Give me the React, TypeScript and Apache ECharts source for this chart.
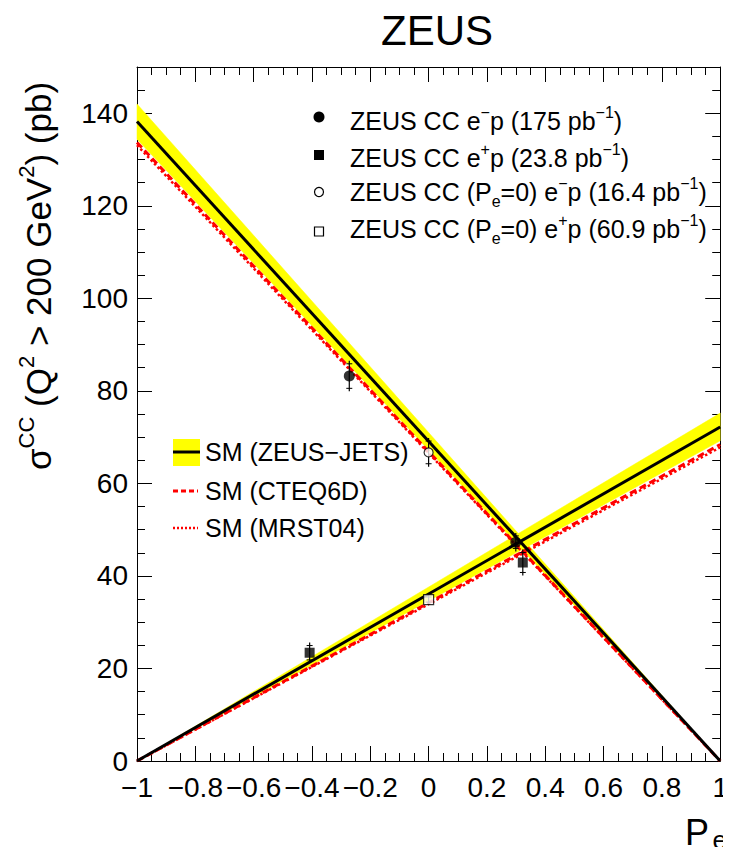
import React, { useEffect, useRef } from "react";
import * as echarts from "echarts";

// ---- Data ----
// Measured points (polarisation Pe, sigma in pb, total error in pb)
const emPolP = [-0.272, 0.299];
const emPolSigma = [83.2, 47.3];
const emPolErr = [3.3, 2.0];

const epPolP = [-0.408, 0.323];
const epPolSigma = [23.4, 42.9];
const epPolErr = [2.2, 2.8];

const emUnpolP = [0.0];
const emUnpolSigma = [66.7];
const emUnpolErr = [3.1];

const epUnpolP = [0.0];
const epUnpolSigma = [34.9];
const epUnpolErr = [1.2];

// SM predictions at Pe = -1 and Pe = +1
const smP = [-1, 1];
const zeusJetsEm = [138.2, 0];
const zeusJetsEmLo = [134.4, 0];
const zeusJetsEmHi = [142.0, 0];
const zeusJetsEp = [0, 72.2];
const zeusJetsEpLo = [0, 69.2];
const zeusJetsEpHi = [0, 75.2];
const cteqEm = [133.7, 0];
const cteqEp = [0, 68.4];
const mrstEm = [133.1, 0];
const mrstEp = [0, 67.8];

const FONT = "Liberation Sans, Arial, Helvetica, sans-serif";

const fmtX = (v: number) => {
  const r = Math.round(v * 10) / 10;
  if (r === 0) return "0";
  return String(r).replace("-", "\u2212");
};

function App() {
  const ref = useRef<HTMLDivElement>(null);

  useEffect(() => {
    if (!ref.current) return;
    const chart = echarts.init(ref.current, null, { renderer: "svg" });

    const line = (a: number[]) => smP.map((p, i) => [p, a[i]]);
    const pts = (p: number[], s: number[]) => p.map((x, i) => [x, s[i]]);
    const errs = (p: number[], s: number[], e: number[]) => p.map((x, i) => [x, s[i], e[i]]);

    const bandData = [
      [smP[0], zeusJetsEmLo[0], zeusJetsEmHi[0], smP[1], zeusJetsEmLo[1], zeusJetsEmHi[1]],
      [smP[0], zeusJetsEpLo[0], zeusJetsEpHi[0], smP[1], zeusJetsEpLo[1], zeusJetsEpHi[1]],
    ];

    const errData = [
      ...errs(emPolP, emPolSigma, emPolErr),
      ...errs(epPolP, epPolSigma, epPolErr),
      ...errs(emUnpolP, emUnpolSigma, emUnpolErr),
      ...errs(epUnpolP, epUnpolSigma, epUnpolErr),
    ];

    const tickCommon = {
      axisLine: { show: true, onZero: false, lineStyle: { color: "#000", width: 1 } },
      axisTick: { show: true, inside: true, length: 15, lineStyle: { color: "#000", width: 1 } },
      minorTick: { show: true, splitNumber: 4, length: 8, lineStyle: { color: "#000", width: 1 } },
      splitLine: { show: false },
      minorSplitLine: { show: false },
    };

    const baseRich = {
      sup: { fontSize: 16, lineHeight: 16, verticalAlign: "top", fontFamily: FONT, fill: "#000" },
      sub: { fontSize: 16, lineHeight: 16, verticalAlign: "bottom", fontFamily: FONT, fill: "#000" },
    };

    const legendText = (x: number, y: number, text: string) => ({
      type: "text",
      x,
      y,
      style: {
        text,
        fontSize: 25,
        lineHeight: 34,
        fontFamily: FONT,
        fill: "#000",
        align: "left",
        verticalAlign: "middle",
        rich: baseRich,
      },
    });

    const option: any = {
      animation: false,
      backgroundColor: "#fff",
      grid: { left: 137, right: 9, top: 67, bottom: 94, containLabel: false },
      xAxis: [
        {
          type: "value",
          min: -1,
          max: 1,
          interval: 0.2,
          position: "bottom",
          ...tickCommon,
          axisLabel: {
            show: true,
            formatter: fmtX,
            fontSize: 28,
            fontFamily: FONT,
            color: "#000",
            margin: 12,
          },
        },
        {
          type: "value",
          min: -1,
          max: 1,
          interval: 0.2,
          position: "top",
          ...tickCommon,
          axisLabel: { show: false },
        },
      ],
      yAxis: [
        {
          type: "value",
          min: 0,
          max: 150,
          interval: 20,
          position: "left",
          ...tickCommon,
          axisLabel: {
            show: true,
            showMaxLabel: false,
            fontSize: 28,
            fontFamily: FONT,
            color: "#000",
            margin: 9,
          },
        },
        {
          type: "value",
          min: 0,
          max: 150,
          interval: 20,
          position: "right",
          ...tickCommon,
          axisLabel: { show: false },
        },
      ],
      series: [
        {
          type: "custom",
          name: "band",
          xAxisIndex: 0,
          yAxisIndex: 0,
          data: bandData,
          encode: { x: [0, 3], y: [1, 2, 4, 5] },
          z: 1,
          renderItem: (_params: any, api: any) => {
            const a = api.coord([api.value(0), api.value(1)]);
            const b = api.coord([api.value(3), api.value(4)]);
            const c = api.coord([api.value(3), api.value(5)]);
            const d = api.coord([api.value(0), api.value(2)]);
            return {
              type: "polygon",
              shape: { points: [a, b, c, d] },
              style: { fill: "#ffff00", stroke: "#ffff00", lineWidth: 0.5 },
            };
          },
        },
        {
          type: "line",
          name: "CTEQ6D e-p",
          data: line(cteqEm),
          showSymbol: false,
          z: 3,
          lineStyle: { color: "#ff0000", width: 3, type: [7, 4] },
        },
        {
          type: "line",
          name: "CTEQ6D e+p",
          data: line(cteqEp),
          showSymbol: false,
          z: 3,
          lineStyle: { color: "#ff0000", width: 3, type: [7, 4] },
        },
        {
          type: "line",
          name: "MRST04 e-p",
          data: line(mrstEm),
          showSymbol: false,
          z: 3,
          lineStyle: { color: "#ff0000", width: 2.5, type: [2.5, 2.5] },
        },
        {
          type: "line",
          name: "MRST04 e+p",
          data: line(mrstEp),
          showSymbol: false,
          z: 3,
          lineStyle: { color: "#ff0000", width: 2.5, type: [2.5, 2.5] },
        },
        {
          type: "line",
          name: "ZEUS-JETS e-p",
          data: line(zeusJetsEm),
          showSymbol: false,
          z: 4,
          lineStyle: { color: "#000", width: 3 },
        },
        {
          type: "line",
          name: "ZEUS-JETS e+p",
          data: line(zeusJetsEp),
          showSymbol: false,
          z: 4,
          lineStyle: { color: "#000", width: 3 },
        },
        {
          type: "custom",
          name: "errors",
          data: errData,
          encode: { x: 0, y: 1 },
          z: 5,
          renderItem: (_params: any, api: any) => {
            const x = api.value(0);
            const y = api.value(1);
            const e = api.value(2);
            const top = api.coord([x, y + e]);
            const bot = api.coord([x, y - e]);
            return {
              type: "group",
              children: [
                {
                  type: "line",
                  shape: { x1: top[0], y1: top[1], x2: bot[0], y2: bot[1] },
                  style: { stroke: "#000", lineWidth: 1.2 },
                },
                {
                  type: "line",
                  shape: { x1: top[0] - 3, y1: top[1] + 3, x2: top[0] + 3, y2: top[1] + 3 },
                  style: { stroke: "#000", lineWidth: 1 },
                },
                {
                  type: "line",
                  shape: { x1: bot[0] - 3, y1: bot[1] - 3, x2: bot[0] + 3, y2: bot[1] - 3 },
                  style: { stroke: "#000", lineWidth: 1 },
                },
              ],
            };
          },
        },
        {
          type: "scatter",
          name: "ZEUS CC e-p",
          data: pts(emPolP, emPolSigma),
          symbol: "circle",
          symbolSize: 11,
          z: 6,
          itemStyle: { color: "#000" },
        },
        {
          type: "scatter",
          name: "ZEUS CC e+p",
          data: pts(epPolP, epPolSigma),
          symbol: "rect",
          symbolSize: 10,
          z: 6,
          itemStyle: { color: "#000" },
        },
        {
          type: "scatter",
          name: "ZEUS CC (Pe=0) e-p",
          data: pts(emUnpolP, emUnpolSigma),
          symbol: "circle",
          symbolSize: 9,
          z: 6,
          itemStyle: { color: "#fff", borderColor: "#000", borderWidth: 1.2 },
        },
        {
          type: "scatter",
          name: "ZEUS CC (Pe=0) e+p",
          data: pts(epUnpolP, epUnpolSigma),
          symbol: "rect",
          symbolSize: 10,
          z: 6,
          itemStyle: { color: "#fff", borderColor: "#000", borderWidth: 1.2 },
        },
      ],
      graphic: [
        {
          type: "text",
          x: 437,
          y: 30,
          style: {
            text: "ZEUS",
            fontSize: 42,
            fontFamily: FONT,
            fill: "#000",
            align: "center",
            verticalAlign: "middle",
          },
        },
        {
          type: "text",
          x: 38,
          y: 276,
          rotation: Math.PI / 2,
          style: {
            text: "\u03c3{sup2|CC} (Q{sup2|2} > 200 GeV{sup2|2}) (pb)",
            fontSize: 35,
            lineHeight: 46,
            fontFamily: FONT,
            fill: "#000",
            align: "center",
            verticalAlign: "middle",
            rich: {
              sup2: { fontSize: 22, lineHeight: 22, verticalAlign: "top", fontFamily: FONT, fill: "#000" },
            },
          },
        },
        {
          type: "text",
          x: 709,
          y: 832,
          style: {
            text: "P",
            fontSize: 36,
            fontFamily: FONT,
            fill: "#000",
            align: "right",
            verticalAlign: "middle",
          },
        },
        {
          type: "text",
          x: 727,
          y: 840,
          style: {
            text: "e",
            fontSize: 26,
            fontFamily: FONT,
            fill: "#000",
            align: "right",
            verticalAlign: "middle",
          },
        },
        // data legend
        { type: "circle", shape: { cx: 319, cy: 117, r: 5.5 }, style: { fill: "#000" } },
        legendText(350, 121, "ZEUS CC e{sup|\u2212}p (175 pb{sup|\u22121})"),
        { type: "rect", shape: { x: 314, y: 150, width: 10, height: 10 }, style: { fill: "#000" } },
        legendText(350, 158, "ZEUS CC e{sup|+}p (23.8 pb{sup|\u22121})"),
        { type: "circle", shape: { cx: 319, cy: 192, r: 4.5 }, style: { fill: "#fff", stroke: "#000", lineWidth: 1.2 } },
        legendText(350, 192, "ZEUS CC (P{sub|e}=0) e{sup|\u2212}p (16.4 pb{sup|\u22121})"),
        { type: "rect", shape: { x: 314.5, y: 227, width: 9, height: 9 }, style: { fill: "#fff", stroke: "#000", lineWidth: 1.2 } },
        legendText(350, 229, "ZEUS CC (P{sub|e}=0) e{sup|+}p (60.9 pb{sup|\u22121})"),
        // SM legend
        { type: "rect", shape: { x: 173, y: 439, width: 27, height: 27 }, style: { fill: "#ffff00" } },
        { type: "line", shape: { x1: 173, y1: 452, x2: 200, y2: 452 }, style: { stroke: "#000", lineWidth: 3 } },
        legendText(205, 452, "SM (ZEUS\u2212JETS)"),
        { type: "line", shape: { x1: 173, y1: 491, x2: 198, y2: 491 }, style: { stroke: "#ff0000", lineWidth: 3, lineDash: [5, 3] } },
        legendText(205, 491, "SM (CTEQ6D)"),
        { type: "line", shape: { x1: 173, y1: 528, x2: 198, y2: 528 }, style: { stroke: "#ff0000", lineWidth: 2.5, lineDash: [2, 2] } },
        legendText(205, 528, "SM (MRST04)"),
      ],
    };

    chart.setOption(option);
    return () => chart.dispose();
  }, []);

  return <div ref={ref} style={{ width: 731, height: 855, margin: -8 }} />;
}

export default App;
